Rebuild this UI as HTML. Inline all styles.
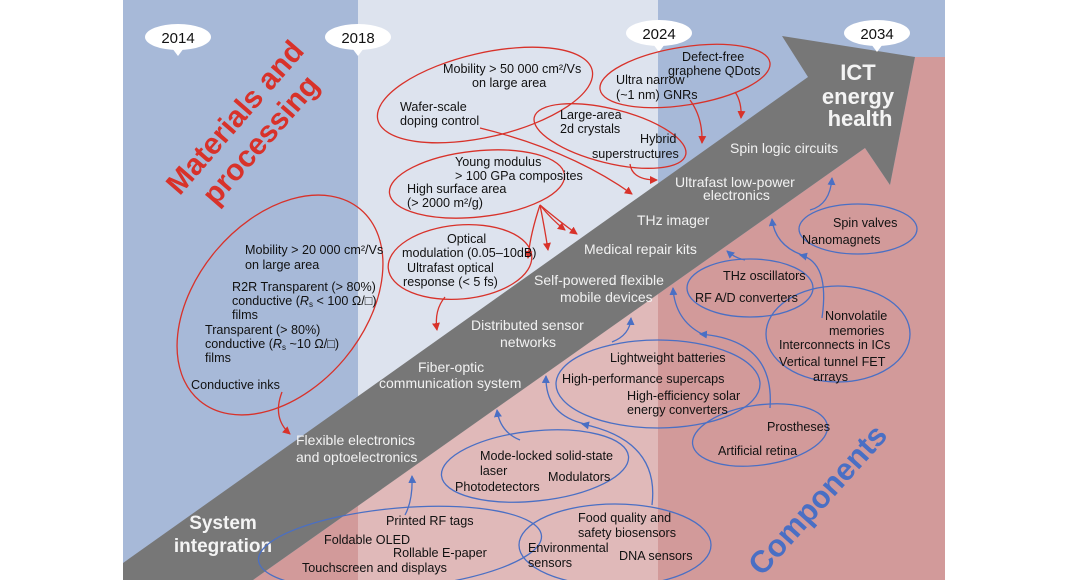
<!DOCTYPE html>
<html><head><meta charset="utf-8"><style>
html,body{margin:0;padding:0;background:#fff;}
svg{display:block;}
text{font-family:"Liberation Sans",sans-serif;}
.k{font-size:12.6px;fill:#111;}
.w{font-size:14px;fill:#f2f2f2;}
</style></head><body>
<svg width="1068" height="580" viewBox="0 0 1068 580" xmlns="http://www.w3.org/2000/svg">
<defs>
<marker id="ar" markerWidth="8" markerHeight="8" refX="7" refY="4" orient="auto" markerUnits="userSpaceOnUse"><path d="M0,0 L8,4 L0,8 z" fill="#d8322a"/></marker>
<marker id="ab" markerWidth="8" markerHeight="8" refX="7" refY="4" orient="auto" markerUnits="userSpaceOnUse"><path d="M0,0 L8,4 L0,8 z" fill="#4a6fc4"/></marker>
<clipPath id="pk"><polygon points="253,580 865,148 890,185 915,57 945,57 945,580"/></clipPath>
</defs>
<rect x="0" y="0" width="1068" height="580" fill="#fff"/>
<rect x="123" y="0" width="235" height="580" fill="#a7b9d8"/>
<rect x="358" y="0" width="300" height="580" fill="#dde3ee"/>
<rect x="658" y="0" width="287" height="580" fill="#a7b9d8"/>
<g clip-path="url(#pk)">
<rect x="123" y="0" width="822" height="580" fill="#d29a9a"/>
<rect x="358" y="0" width="300" height="580" fill="#e0b9b9"/>
</g>
<polygon points="123,563 808,77 782,36 915,57 890,185 865,148 253,580 123,580" fill="#777"/>

<g font-size="15" text-anchor="middle" fill="#111">
<ellipse cx="178" cy="37" rx="33" ry="13" fill="#fff"/><polygon points="172,48 184,48 178,56" fill="#fff"/><text x="178" y="43">2014</text>
<ellipse cx="358" cy="37" rx="33" ry="13" fill="#fff"/><polygon points="352,48 364,48 358,56" fill="#fff"/><text x="358" y="43">2018</text>
<ellipse cx="659" cy="33" rx="33" ry="13" fill="#fff"/><polygon points="653,44 665,44 659,52" fill="#fff"/><text x="659" y="39">2024</text>
<ellipse cx="877" cy="33" rx="33" ry="13" fill="#fff"/><polygon points="871,44 883,44 877,52" fill="#fff"/><text x="877" y="39">2034</text>
</g>

<g transform="translate(247,128) rotate(-49)" font-size="30" font-weight="bold" fill="#d8322a" text-anchor="middle">
<text x="0" y="-6">Materials and</text><text x="0" y="28">processing</text></g>
<g transform="translate(818,500) rotate(-48)" font-size="31" font-weight="bold" fill="#4a6fc4" text-anchor="middle">
<text x="0" y="10">Components</text></g>

<g font-weight="bold" fill="#f4f4f4" text-anchor="middle">
<text x="223" y="529" font-size="19">System</text><text x="223" y="552" font-size="19">integration</text>
<text x="858" y="80" font-size="22">ICT</text><text x="858" y="104" font-size="22">energy</text><text x="860" y="126" font-size="22">health</text>
</g>

<g class="w">
<text x="730" y="153" class="w">Spin logic circuits</text>
<text x="675" y="187" class="w">Ultrafast low-power</text>
<text x="703" y="200" class="w">electronics</text>
<text x="637" y="225" class="w">THz imager</text>
<text x="584" y="254" class="w">Medical repair kits</text>
<text x="534" y="285" class="w">Self-powered flexible</text>
<text x="560" y="302" class="w">mobile devices</text>
<text x="471" y="330" class="w">Distributed sensor</text>
<text x="500" y="347" class="w">networks</text>
<text x="418" y="372" class="w">Fiber-optic</text>
<text x="379" y="388" class="w">communication system</text>
<text x="296" y="445" class="w">Flexible electronics</text>
<text x="296" y="462" class="w">and optoelectronics</text>
</g>

<g fill="none" stroke="#d8322a" stroke-width="1.3">
<ellipse cx="485" cy="95" rx="110" ry="42" transform="rotate(-13 485 95)"/>
<ellipse cx="685" cy="76" rx="86" ry="29" transform="rotate(-9 685 76)"/>
<ellipse cx="610" cy="136" rx="78" ry="27" transform="rotate(14 610 136)"/>
<ellipse cx="477" cy="184" rx="88" ry="33" transform="rotate(-6 477 184)"/>
<ellipse cx="460" cy="262" rx="72" ry="37" transform="rotate(-5 460 262)"/>
<ellipse cx="280" cy="305" rx="125" ry="84" transform="rotate(-50 280 305)"/>
</g>
<g fill="none" stroke="#d8322a" stroke-width="1.3">
<path d="M282,392 Q272,418 290,434" marker-end="url(#ar)"/>
<path d="M445,297 Q434,310 437,330" marker-end="url(#ar)"/>
<path d="M540,205 Q545,230 548,250" marker-end="url(#ar)"/>
<path d="M540,205 Q530,235 528,258" marker-end="url(#ar)"/>
<path d="M540,205 Q560,222 577,234" marker-end="url(#ar)"/>
<path d="M540,205 Q552,220 565,230" marker-end="url(#ar)"/>
<path d="M480,128 Q570,150 632,194" marker-end="url(#ar)"/>
<path d="M630,164 Q632,180 657,180" marker-end="url(#ar)"/>
<path d="M690,100 Q703,118 702,143" marker-end="url(#ar)"/>
<path d="M735,92 Q742,102 741,118" marker-end="url(#ar)"/>
</g>
<g class="k">
<text x="443" y="73" class="k">Mobility &gt; 50 000 cm²/Vs</text>
<text x="472" y="87" class="k">on large area</text>
<text x="400" y="111" class="k">Wafer-scale</text>
<text x="400" y="125" class="k">doping control</text>
<text x="682" y="61" class="k">Defect-free</text>
<text x="668" y="75" class="k">graphene QDots</text>
<text x="616" y="84" class="k">Ultra narrow</text>
<text x="616" y="99" class="k">(~1 nm) GNRs</text>
<text x="560" y="119" class="k">Large-area</text>
<text x="560" y="133" class="k">2d crystals</text>
<text x="640" y="143" class="k">Hybrid</text>
<text x="592" y="158" class="k">superstructures</text>
<text x="455" y="166" class="k">Young modulus</text>
<text x="455" y="180" class="k">&gt; 100 GPa composites</text>
<text x="407" y="193" class="k">High surface area</text>
<text x="407" y="207" class="k">(&gt; 2000 m²/g)</text>
<text x="447" y="243" class="k">Optical</text>
<text x="402" y="257" class="k">modulation (0.05–10dB)</text>
<text x="407" y="272" class="k">Ultrafast optical</text>
<text x="403" y="286" class="k">response (&lt; 5 fs)</text>
<text x="245" y="254" class="k">Mobility &gt; 20 000 cm²/Vs</text>
<text x="245" y="269" class="k">on large area</text>
<text x="232" y="291" class="k">R2R Transparent (&gt; 80%)</text>
<text x="232" y="305" class="k">conductive (<tspan font-style="italic">R</tspan><tspan font-size="8" dy="2">s</tspan><tspan dy="-2"> &lt; 100 Ω/□)</tspan></text>
<text x="232" y="319" class="k">films</text>
<text x="205" y="334" class="k">Transparent (&gt; 80%)</text>
<text x="205" y="348" class="k">conductive (<tspan font-style="italic">R</tspan><tspan font-size="8" dy="2">s</tspan><tspan dy="-2"> ~10 Ω/□)</tspan></text>
<text x="205" y="362" class="k">films</text>
<text x="191" y="389" class="k">Conductive inks</text>
</g>

<g fill="none" stroke="#4a6fc4" stroke-width="1.3">
<ellipse cx="400" cy="548" rx="142" ry="40" transform="rotate(-5 400 548)"/>
<ellipse cx="615" cy="545" rx="96" ry="41"/>
<ellipse cx="535" cy="466" rx="94" ry="35" transform="rotate(-6 535 466)"/>
<ellipse cx="658" cy="384" rx="102" ry="44"/>
<ellipse cx="760" cy="435" rx="68" ry="30" transform="rotate(-8 760 435)"/>
<ellipse cx="838" cy="334" rx="72" ry="48"/>
<ellipse cx="750" cy="288" rx="63" ry="29"/>
<ellipse cx="858" cy="229" rx="59" ry="25"/>
</g>
<g fill="none" stroke="#4a6fc4" stroke-width="1.3">
<path d="M405,515 Q413,500 412,476" marker-end="url(#ab)"/>
<path d="M652,505 Q660,440 582,424" marker-end="url(#ab)"/>
<path d="M585,424 Q545,415 546,376" marker-end="url(#ab)"/>
<path d="M520,440 Q500,432 497,410" marker-end="url(#ab)"/>
<path d="M612,342 Q630,335 631,318" marker-end="url(#ab)"/>
<path d="M770,408 Q775,340 700,334" marker-end="url(#ab)"/>
<path d="M702,334 Q675,320 673,288" marker-end="url(#ab)"/>
<path d="M745,260 Q735,258 727,251" marker-end="url(#ab)"/>
<path d="M822,318 Q830,262 800,255" marker-end="url(#ab)"/>
<path d="M802,255 Q775,245 772,219" marker-end="url(#ab)"/>
<path d="M810,210 Q830,205 832,178" marker-end="url(#ab)"/>
</g>
<g class="k">
<text x="386" y="525" class="k">Printed RF tags</text>
<text x="324" y="544" class="k">Foldable OLED</text>
<text x="393" y="557" class="k">Rollable E-paper</text>
<text x="302" y="572" class="k">Touchscreen and displays</text>
<text x="578" y="522" class="k">Food quality and</text>
<text x="578" y="537" class="k">safety biosensors</text>
<text x="528" y="552" class="k">Environmental</text>
<text x="528" y="567" class="k">sensors</text>
<text x="619" y="560" class="k">DNA sensors</text>
<text x="480" y="460" class="k">Mode-locked solid-state</text>
<text x="480" y="475" class="k">laser</text>
<text x="455" y="491" class="k">Photodetectors</text>
<text x="548" y="481" class="k">Modulators</text>
<text x="610" y="362" class="k">Lightweight batteries</text>
<text x="562" y="383" class="k">High-performance supercaps</text>
<text x="627" y="400" class="k">High-efficiency solar</text>
<text x="627" y="414" class="k">energy converters</text>
<text x="767" y="431" class="k">Prostheses</text>
<text x="718" y="455" class="k">Artificial retina</text>
<text x="825" y="320" class="k">Nonvolatile</text>
<text x="829" y="335" class="k">memories</text>
<text x="779" y="349" class="k">Interconnects in ICs</text>
<text x="779" y="366" class="k">Vertical tunnel FET</text>
<text x="813" y="381" class="k">arrays</text>
<text x="723" y="280" class="k">THz oscillators</text>
<text x="695" y="302" class="k">RF A/D converters</text>
<text x="833" y="227" class="k">Spin valves</text>
<text x="802" y="244" class="k">Nanomagnets</text>
</g>
</svg>
</body></html>
